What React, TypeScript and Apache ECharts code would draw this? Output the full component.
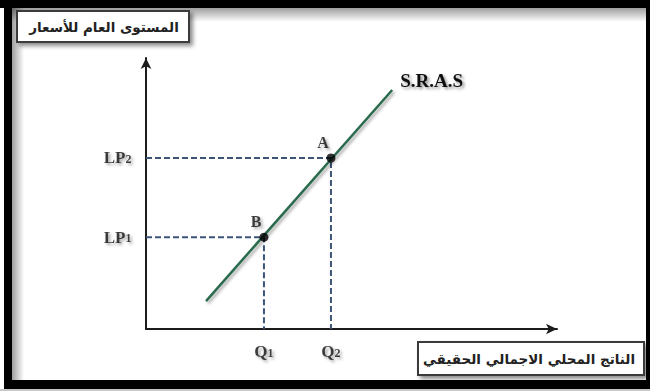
import React, { useEffect, useRef } from 'react';
import * as echarts from 'echarts';

const curveName = 'S.R.A.S';
const curveX = [14.6, 59.9];
const curveY = [10.3, 88.2];
const pointNames = ['B', 'A'];
const pointX = [28.7, 45.0];
const pointY = [33.9, 63.1];
const priceLabels = ['LP1', 'LP2'];
const qtyLabels = ['Q1', 'Q2'];
const yAxisTitle = 'المستوى العام للأسعار';
const xAxisTitle = 'الناتج المحلي الاجمالي الحقيقي';

const SERIF = "'Liberation Serif', 'Times New Roman', serif";
const ARABIC = "'DejaVu Sans', 'Noto Sans', sans-serif";
const shadow = {
  textShadowColor: 'rgba(0,0,0,0.45)',
  textShadowBlur: 3,
  textShadowOffsetX: 2,
  textShadowOffsetY: 2,
};
const subFormat = (s: string) => {
  const m = s.match(/^([A-Za-z]+)(\d+)$/);
  return m ? `{a|${m[1]}}{b|${m[2]}}` : `{a|${s}}`;
};
const richStyles = {
  a: { fontFamily: SERIF, fontWeight: 'bold', fontSize: 17, color: '#111', lineHeight: 20, ...shadow },
  b: { fontFamily: SERIF, fontWeight: 'bold', fontSize: 12, color: '#111', lineHeight: 20, verticalAlign: 'bottom', padding: [0, 0, 3, 0], ...shadow },
};

export default function App() {
  const ref = useRef<HTMLDivElement>(null);
  useEffect(() => {
    if (!ref.current) return;
    const chart = echarts.init(ref.current, undefined, { renderer: 'svg' });
    const axisLine = () => ({
      show: true,
      symbol: ['none', 'arrow'],
      symbolSize: [8, 11],
      lineStyle: { color: '#1c1c1c', width: 2 },
    });
    const guideSeries = pointX.map((px, i) => ({
      type: 'line',
      silent: true,
      symbol: 'none',
      z: 1,
      lineStyle: { type: [6, 3], color: '#3b5478', width: 2 },
      data: [
        [0, pointY[i]],
        [px, pointY[i]],
        [px, 0],
      ],
    }));
    const option: any = {
      animation: false,
      backgroundColor: '#ffffff',
      grid: { left: 146, right: 93, top: 58, bottom: 62 },
      xAxis: {
        type: 'value',
        min: 0,
        max: 100,
        axisLine: axisLine(),
        axisTick: { show: false },
        axisLabel: { show: false },
        splitLine: { show: false },
      },
      yAxis: {
        type: 'value',
        min: 0,
        max: 100,
        axisLine: axisLine(),
        axisTick: { show: false },
        axisLabel: { show: false },
        splitLine: { show: false },
      },
      graphic: [
        // frame
        { type: 'rect', shape: { x: 0, y: 0, width: 650, height: 8 }, style: { fill: '#000' }, silent: true },
        { type: 'rect', shape: { x: 4, y: 0, width: 8, height: 389 }, style: { fill: '#000' }, silent: true },
        { type: 'rect', shape: { x: 646, y: 0, width: 4, height: 389 }, style: { fill: '#000' }, silent: true },
        { type: 'rect', shape: { x: 4, y: 380, width: 646, height: 9 }, style: { fill: '#000' }, silent: true },
        { type: 'rect', shape: { x: 0, y: 389, width: 650, height: 2 }, style: { fill: '#c8c8c8' }, silent: true },
        {
          type: 'rect',
          shape: { x: 12, y: 8, width: 634, height: 14 },
          style: {
            fill: new echarts.graphic.LinearGradient(0, 0, 0, 1, [
              { offset: 0, color: 'rgba(0,0,0,0.38)' },
              { offset: 1, color: 'rgba(0,0,0,0)' },
            ]),
          },
          silent: true,
        },
        {
          type: 'rect',
          shape: { x: 12, y: 8, width: 12, height: 372 },
          style: {
            fill: new echarts.graphic.LinearGradient(0, 0, 1, 0, [
              { offset: 0, color: 'rgba(0,0,0,0.38)' },
              { offset: 1, color: 'rgba(0,0,0,0)' },
            ]),
          },
          silent: true,
        },
        // y title box
        {
          type: 'rect',
          shape: { x: 17, y: 11, width: 172, height: 31 },
          style: {
            fill: '#fff',
            stroke: '#3a3a3a',
            lineWidth: 2,
            shadowColor: 'rgba(0,0,0,0.45)',
            shadowBlur: 4,
            shadowOffsetX: 3,
            shadowOffsetY: 3,
          },
          silent: true,
        },
        {
          type: 'text',
          x: 104,
          y: 27,
          style: {
            text: yAxisTitle,
            fill: '#222',
            font: `bold 13.5px ${ARABIC}`,
            align: 'center',
            verticalAlign: 'middle',
          },
          silent: true,
        },
        // x title box
        {
          type: 'rect',
          shape: { x: 418, y: 342, width: 226, height: 33 },
          style: {
            fill: '#fff',
            stroke: '#3a3a3a',
            lineWidth: 2,
            shadowColor: 'rgba(0,0,0,0.45)',
            shadowBlur: 4,
            shadowOffsetX: 3,
            shadowOffsetY: 3,
          },
          silent: true,
        },
        {
          type: 'text',
          x: 529,
          y: 359,
          style: {
            text: xAxisTitle,
            fill: '#222',
            font: `bold 13.5px ${ARABIC}`,
            align: 'center',
            verticalAlign: 'middle',
          },
          silent: true,
        },
      ],
      series: [
        ...guideSeries,
        {
          type: 'line',
          name: curveName,
          symbol: 'none',
          z: 3,
          lineStyle: {
            color: '#2b6a4e',
            width: 2.5,
            shadowColor: 'rgba(0,0,0,0.35)',
            shadowBlur: 3,
            shadowOffsetX: 2,
            shadowOffsetY: 2,
          },
          data: curveX.map((x, i) => [x, curveY[i]]),
          endLabel: {
            show: true,
            formatter: curveName,
            distance: 8,
            offset: [0, -9],
            fontFamily: SERIF,
            fontWeight: 'bold',
            fontSize: 19,
            color: '#111',
            ...shadow,
          },
        },
        {
          type: 'scatter',
          z: 4,
          symbolSize: 9,
          itemStyle: { color: '#000' },
          data: pointNames.map((n, i) => ({ name: n, value: [pointX[i], pointY[i]] })),
          label: {
            show: true,
            position: 'top',
            distance: 3,
            offset: [-8, 0],
            formatter: '{b}',
            fontFamily: SERIF,
            fontWeight: 'bold',
            fontSize: 16,
            color: '#111',
            ...shadow,
          },
        },
        {
          type: 'scatter',
          silent: true,
          symbolSize: 1,
          itemStyle: { color: 'rgba(0,0,0,0)' },
          data: priceLabels.map((n, i) => ({ name: n, value: [0, pointY[i]] })),
          label: {
            show: true,
            position: 'left',
            distance: 14,
            formatter: (p: any) => subFormat(p.name),
            rich: richStyles,
          },
        },
        {
          type: 'scatter',
          silent: true,
          symbolSize: 1,
          itemStyle: { color: 'rgba(0,0,0,0)' },
          data: qtyLabels.map((n, i) => ({ name: n, value: [pointX[i], 0] })),
          label: {
            show: true,
            position: 'bottom',
            distance: 12,
            formatter: (p: any) => subFormat(p.name),
            rich: richStyles,
          },
        },
      ],
    };
    chart.setOption(option);
    return () => chart.dispose();
  }, []);
  return (
    <div
      ref={ref}
      style={{ position: 'absolute', left: 0, top: 0, width: 650, height: 391 }}
    />
  );
}
